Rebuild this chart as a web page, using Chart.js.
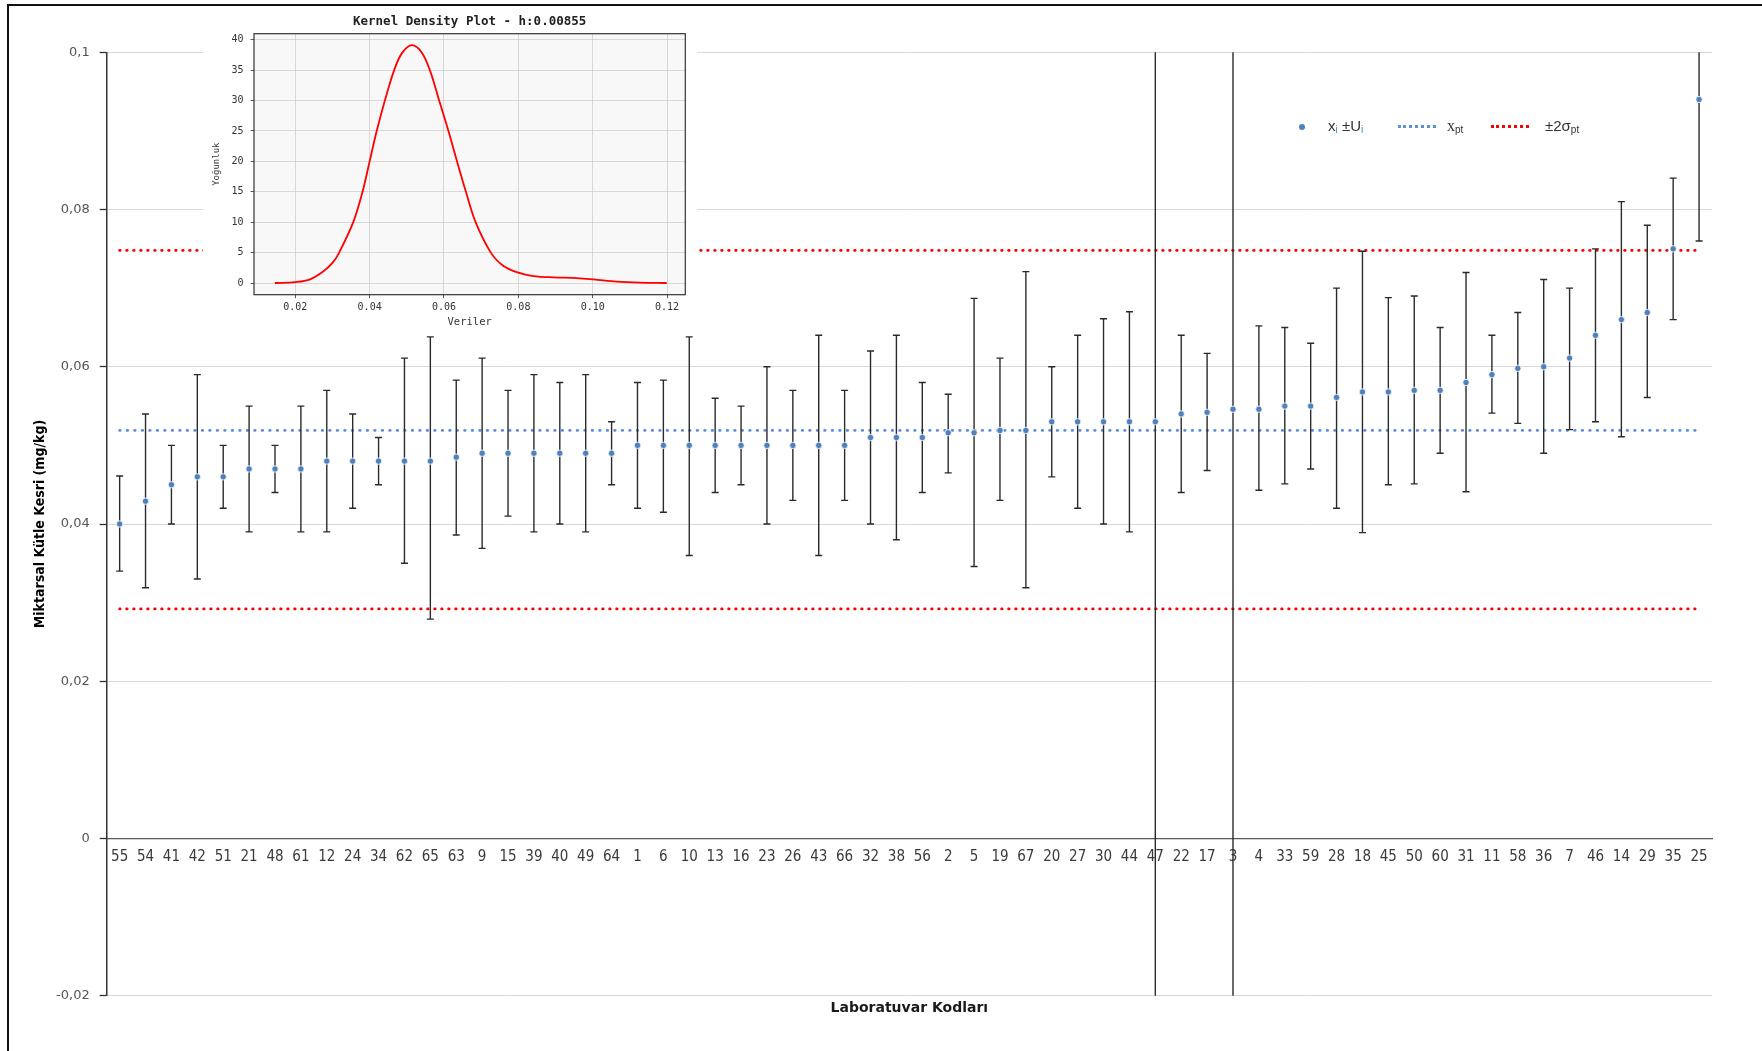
<!DOCTYPE html>
<html>
<head>
<meta charset="utf-8">
<script src="https://cdn.jsdelivr.net/npm/chart.js@4.4.1/dist/chart.umd.min.js"></script>
<style>
html,body{margin:0;padding:0;background:#fff;width:1762px;height:1051px;overflow:hidden;}
#mainWrap{position:absolute;left:0;top:0;width:1762px;height:1051px;}
#frame{position:absolute;left:7px;top:4px;width:1800px;height:1100px;border-top:2px solid #111;border-left:2px solid #111;pointer-events:none;}
#insetWrap{position:absolute;left:203px;top:7px;width:494px;height:329px;background:#fff;}
.lg{position:absolute;font-family:"Liberation Sans",Arial,sans-serif;font-size:15px;line-height:18px;color:#333;top:117px;white-space:nowrap;}
.lg sub{font-size:10px;vertical-align:-2px;line-height:0;}
.lg .b{color:#4f81bd;}
.lgdot{position:absolute;left:1299px;top:123.5px;width:6px;height:6px;border-radius:50%;background:#4f81bd;}
.lgline{position:absolute;top:125px;height:0;width:38px;border-top:3px dotted;}
</style>
</head>
<body>
<div id="mainWrap"><canvas id="main"></canvas></div>
<div id="insetWrap"><canvas id="inset"></canvas></div>
<div id="frame"></div>
<span class="lgdot"></span>
<span class="lg" style="left:1328px">x<sub class="b">i</sub> ±U<sub class="b">i</sub></span>
<span class="lgline" style="left:1398px;border-color:#5b8fd8"></span>
<span class="lg" style="left:1447px"><span style="font-family:'Liberation Serif',serif;font-size:16px">x</span><sub>pt</sub></span>
<span class="lgline" style="left:1491px;border-color:#ff0000"></span>
<span class="lg" style="left:1545px">±2σ<sub>pt</sub></span>
<script>
// ---------- data ----------
const labCodes = ['55','54','41','42','51','21','48','61','12','24','34','62','65','63','9','15','39','40','49','64','1','6','10','13','16','23','26','43','66','32','38','56','2','5','19','67','20','27','30','44','47','22','17','3','4','33','59','28','18','45','50','60','31','11','58','36','7','46','14','29','35','25'];
const values = [0.0400,0.0429,0.0450,0.0460,0.0460,0.0470,0.0470,0.0470,0.0480,0.0480,0.0480,0.0480,0.0480,0.0485,0.0490,0.0490,0.0490,0.0490,0.0490,0.0490,0.0500,0.0500,0.0500,0.0500,0.0500,0.0500,0.0500,0.0500,0.0500,0.0510,0.0510,0.0510,0.0516,0.0516,0.0519,0.0519,0.0530,0.0530,0.0530,0.0530,0.0530,0.0540,0.0542,0.0546,0.0546,0.0550,0.0550,0.0561,0.0568,0.0568,0.0570,0.0570,0.0580,0.0590,0.0598,0.0600,0.0611,0.0640,0.0660,0.0669,0.0750,0.0940];
const upperU = [0.0461,0.0540,0.0500,0.0590,0.0500,0.0550,0.0500,0.0550,0.0570,0.0540,0.0510,0.0611,0.0638,0.0583,0.0611,0.0570,0.0590,0.0580,0.0590,0.0530,0.0580,0.0583,0.0638,0.0560,0.0550,0.0600,0.0570,0.0640,0.0570,0.0620,0.0640,0.0580,0.0565,0.0687,0.0611,0.0721,0.0600,0.0640,0.0661,0.0670,0.1600,0.0640,0.0617,0.1600,0.0652,0.0650,0.0630,0.0700,0.0747,0.0688,0.0690,0.0650,0.0720,0.0640,0.0669,0.0711,0.0700,0.0750,0.0810,0.0780,0.0840,0.1120];
const lowerU = [0.0340,0.0319,0.0400,0.0330,0.0420,0.0390,0.0440,0.0390,0.0390,0.0420,0.0450,0.0350,0.0279,0.0386,0.0369,0.0410,0.0390,0.0400,0.0390,0.0450,0.0420,0.0415,0.0360,0.0440,0.0450,0.0400,0.0430,0.0360,0.0430,0.0400,0.0380,0.0440,0.0465,0.0346,0.0430,0.0319,0.0460,0.0420,0.0400,0.0390,-0.0500,0.0440,0.0468,-0.0500,0.0443,0.0451,0.0470,0.0420,0.0389,0.0450,0.0451,0.0490,0.0441,0.0541,0.0528,0.0490,0.0520,0.0530,0.0511,0.0561,0.0660,0.0760];
const xPt = 0.0519;
const upperLimit = 0.0748;
const lowerLimit = 0.0292;
const yTickMin = -0.02, yTickMax = 0.1, yTickStep = 0.02;

const kdeX = [0.0145,0.0200,0.0240,0.0275,0.0300,0.0318,0.0356,0.0381,0.0400,0.0419,0.0441,0.0466,0.0487,0.0514,0.0540,0.0562,0.0587,0.0612,0.0635,0.0659,0.0685,0.0726,0.0760,0.0800,0.0840,0.0894,0.0957,0.1002,0.1065,0.1127,0.1199];
const kdeY = [0.0,0.15,0.6,1.9,3.3,5.0,10.0,15.0,20.0,25.0,30.0,35.0,37.8,39.1,37.9,35.0,30.0,25.0,20.0,15.0,10.0,5.0,2.8,1.7,1.15,0.93,0.82,0.6,0.22,0.05,0.0];

// ---------- main chart ----------
const first = labCodes[0], last = labCodes[labCodes.length - 1];
const errorBars = {
  id: 'errorBars',
  beforeDatasetDraw(chart, args) {
    if (args.index !== 0) return;
    const {ctx, chartArea: a, scales: {x, y}} = chart;
    ctx.save();
    ctx.beginPath();
    ctx.rect(a.left, a.top, a.right - a.left, a.bottom - a.top);
    ctx.clip();
    ctx.strokeStyle = '#2a2a2a';
    ctx.lineWidth = 1.4;
    labCodes.forEach((c, i) => {
      const px = x.getPixelForValue(i);
      const yt = y.getPixelForValue(upperU[i]);
      const yb = y.getPixelForValue(lowerU[i]);
      ctx.beginPath();
      ctx.moveTo(px, yt); ctx.lineTo(px, yb);
      ctx.moveTo(px - 3.5, yt); ctx.lineTo(px + 3.5, yt);
      ctx.moveTo(px - 3.5, yb); ctx.lineTo(px + 3.5, yb);
      ctx.stroke();
    });
    ctx.restore();
  }
};

const fmt = v => {
  const r = Math.round(v * 1000) / 1000;
  if (r === 0) return '0';
  return String(r).replace('.', ',');
};

new Chart(document.getElementById('main'), {
  type: 'line',
  data: {
    labels: labCodes,
    datasets: [
      {label: 'xi ±Ui', data: values, showLine: false, pointRadius: 3.2, pointBackgroundColor: '#4f81bd', pointBorderColor: '#ffffff', pointBorderWidth: 0.8},
      {label: 'xpt', data: [{x: first, y: xPt}, {x: last, y: xPt}], borderColor: '#5b8fd8', borderWidth: 2.8, borderDash: [0.5, 7], borderCapStyle: 'round', pointRadius: 0},
      {label: '+2σpt', data: [{x: first, y: upperLimit}, {x: last, y: upperLimit}], borderColor: '#ff0000', borderWidth: 2.8, borderDash: [0.5, 6.5], borderCapStyle: 'round', pointRadius: 0},
      {label: '-2σpt', data: [{x: first, y: lowerLimit}, {x: last, y: lowerLimit}], borderColor: '#ff0000', borderWidth: 2.8, borderDash: [0.5, 6.5], borderCapStyle: 'round', pointRadius: 0}
    ]
  },
  options: {
    responsive: true, maintainAspectRatio: false, devicePixelRatio: 1, animation: false, events: [],
    layout: {padding: {top: 52.3, right: 50, left: 0, bottom: 0}},
    plugins: {
      legend: {display: false}, tooltip: {enabled: false},
      title: {display: true, fullSize: false, position: 'bottom', text: 'Laboratuvar Kodları', color: '#1a1a1a',
        font: {family: "'DejaVu Sans', sans-serif", size: 14, weight: 'bold', lineHeight: 1.2},
        padding: {top: 4, bottom: 34.5}}
    },
    scales: {
      x: {
        type: 'category', offset: true, position: {y: 0},
        grid: {display: false, drawTicks: false},
        border: {display: true, color: '#595959', width: 1.3},
        ticks: {autoSkip: false, maxRotation: 0, padding: 10, color: '#3a3a3a',
          font: {family: "'Liberation Sans Narrow','DejaVu Sans Condensed',sans-serif", size: 15}}
      },
      y: {
        position: 'left', min: yTickMin, max: yTickMax,
        afterFit(s) { s.width = 106.7; },
        ticks: {stepSize: yTickStep, padding: 10, color: '#555', callback: v => fmt(v),
          font: {family: "'DejaVu Sans', sans-serif", size: 13}},
        grid: {color: '#d9d9d9', lineWidth: 1, tickLength: 7, tickColor: '#333', tickWidth: 1.3},
        border: {display: true, color: '#333', width: 1.5},
        title: {display: true, text: 'Miktarsal Kütle Kesri (mg/kg)', color: '#000',
          font: {family: "'Liberation Sans Narrow','DejaVu Sans Condensed',sans-serif", size: 14, weight: 'bold', lineHeight: 1.2},
          padding: {top: 32, bottom: 0}}
      }
    }
  },
  plugins: [errorBars]
});

// ---------- inset KDE chart ----------
const insetFrame = {
  id: 'insetFrame',
  beforeDraw(chart) {
    const {ctx, chartArea: a} = chart;
    ctx.save(); ctx.fillStyle = '#f8f8f8';
    ctx.fillRect(a.left, a.top, a.right - a.left, a.bottom - a.top); ctx.restore();
  },
  afterDraw(chart) {
    const {ctx, chartArea: a} = chart;
    ctx.save(); ctx.strokeStyle = '#333'; ctx.lineWidth = 1.2;
    ctx.strokeRect(a.left, a.top, a.right - a.left, a.bottom - a.top); ctx.restore();
  }
};
const mono = "'DejaVu Sans Mono', monospace";
new Chart(document.getElementById('inset'), {
  type: 'line',
  data: {datasets: [{data: kdeX.map((v, i) => ({x: v, y: kdeY[i]})), borderColor: '#ff0000', borderWidth: 1.8, pointRadius: 0, tension: 0.35}]},
  options: {
    responsive: true, maintainAspectRatio: false, devicePixelRatio: 1, animation: false, events: [],
    layout: {padding: {top: 0, right: 11.7, left: 0, bottom: 0}},
    plugins: {
      legend: {display: false}, tooltip: {enabled: false},
      title: {display: true, fullSize: false, text: 'Kernel Density Plot - h:0.00855', color: '#222',
        font: {family: mono, size: 12.5, weight: 'bold', lineHeight: 1.2}, padding: {top: 7.5, bottom: 4.2}}
    },
    scales: {
      x: {type: 'linear', min: 0.0089, max: 0.1249,
        afterFit(s) { s.height = 41.3; },
        ticks: {stepSize: 0.02, includeBounds: false, padding: 3.5, color: '#333', font: {family: mono, size: 10}, callback: v => v.toFixed(2)},
        grid: {color: '#cfcfcf', lineWidth: 0.8, tickLength: 3.5, tickColor: '#333', tickBorderDash: [], drawTicks: true},
        border: {display: false},
        title: {display: true, text: 'Veriler', color: '#333', font: {family: mono, size: 10.5, lineHeight: 1.2}, padding: {top: 0, bottom: 7.7}}
      },
      y: {min: -1.92, max: 40.99,
        afterFit(s) { s.width = 51; },
        ticks: {stepSize: 5, includeBounds: false, padding: 7, color: '#333', font: {family: mono, size: 10}, callback: v => String(Math.round(v))},
        grid: {color: '#cfcfcf', lineWidth: 0.8, tickLength: 3.5, tickColor: '#333'},
        border: {display: false},
        title: {display: true, text: 'Yoğunluk', color: '#333', font: {family: mono, size: 9, lineHeight: 1.2}, padding: {top: 8.5, bottom: 0}}
      }
    }
  },
  plugins: [insetFrame]
});
</script>
</body>
</html>
